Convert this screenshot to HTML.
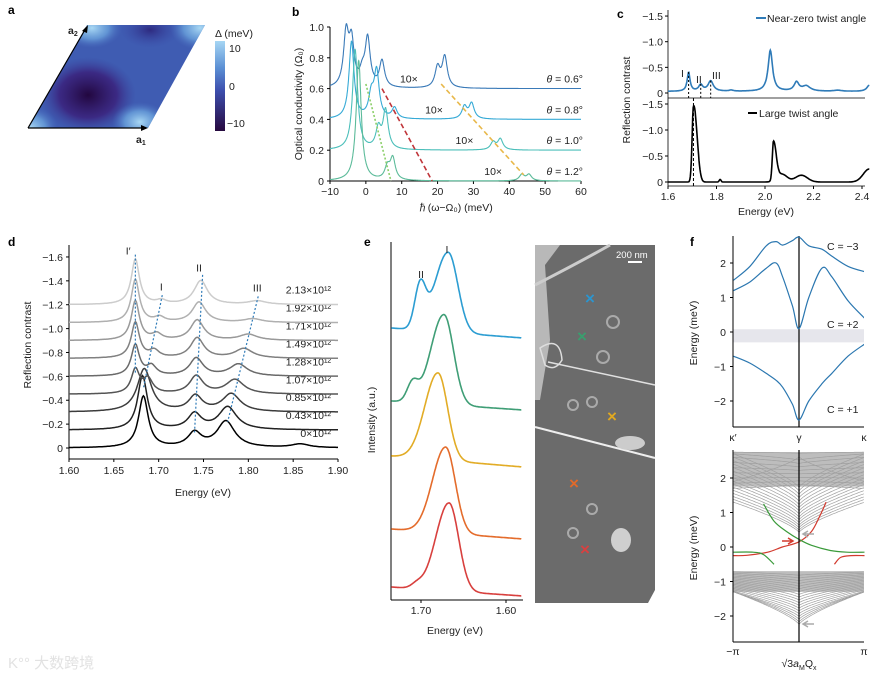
<!DOCTYPE html>
<html><head><meta charset="utf-8">
<style>
html,body{margin:0;padding:0;background:#fff;}
svg{display:block;font-family:"Liberation Sans","Noto Sans CJK SC",sans-serif;}
.t{font-size:10.5px;fill:#222;}
.L{font-size:12px;font-weight:bold;fill:#000;}
</style></head>
<body>
<svg id="fig" width="886" height="678" viewBox="0 0 886 678" xmlns="http://www.w3.org/2000/svg">
<defs>
 <clipPath id="rh"><polygon points="28,128 148,128 205,25 87,25"/></clipPath>
 <radialGradient id="dk" cx="0.5" cy="0.5" r="0.5"><stop offset="0" stop-color="#22073f"/><stop offset="0.6" stop-color="#3a1d78" stop-opacity="0.8"/><stop offset="1" stop-color="#3a3f9a" stop-opacity="0"/></radialGradient>
 <radialGradient id="lt" cx="0.5" cy="0.5" r="0.5"><stop offset="0" stop-color="#a9d8f4"/><stop offset="0.55" stop-color="#6aa2dc" stop-opacity="0.8"/><stop offset="1" stop-color="#4a70c0" stop-opacity="0"/></radialGradient>
 <radialGradient id="dm" cx="0.5" cy="0.5" r="0.5"><stop offset="0" stop-color="#2e2a80"/><stop offset="1" stop-color="#3a4aa8" stop-opacity="0"/></radialGradient>
 <linearGradient id="cb" x1="0" y1="0" x2="0" y2="1"><stop offset="0" stop-color="#a6d6f4"/><stop offset="0.3" stop-color="#5b8fd4"/><stop offset="0.55" stop-color="#3d4fae"/><stop offset="1" stop-color="#27093f"/></linearGradient>
 <clipPath id="fb"><rect x="733" y="450" width="131" height="192"/></clipPath>
 <clipPath id="ft"><rect x="733" y="236" width="131" height="191"/></clipPath>
</defs>

<g>
 <text class="L" x="8" y="14">a</text>
 <g clip-path="url(#rh)">
  <rect x="20" y="20" width="200" height="115" fill="#3f5cb2"/>
  <ellipse cx="150" cy="30" rx="30" ry="18" fill="url(#dm)"/>
  <ellipse cx="88" cy="95" rx="48" ry="38" fill="url(#dk)"/>
  <ellipse cx="30" cy="128" rx="28" ry="22" fill="url(#lt)"/>
  <ellipse cx="92" cy="28" rx="30" ry="20" fill="url(#lt)"/>
  <ellipse cx="200" cy="28" rx="30" ry="22" fill="url(#lt)"/>
  <ellipse cx="140" cy="122" rx="28" ry="20" fill="url(#lt)"/>
 </g>
 <line x1="28" y1="128" x2="146" y2="128" stroke="#000" stroke-width="1.2"/>
 <polygon points="148,128 141,125 141,131" fill="#000"/>
 <line x1="28" y1="128" x2="86" y2="28" stroke="#000" stroke-width="1.2"/>
 <polygon points="88,25 82,31 87,33" fill="#000"/>
 <text class="t" x="136" y="143" font-weight="bold">a<tspan font-size="7" dy="2">1</tspan></text>
 <text class="t" x="68" y="34" font-weight="bold">a<tspan font-size="7" dy="2">2</tspan></text>
 <rect x="215" y="41" width="10" height="90" fill="url(#cb)"/>
 <text class="t" x="215" y="37">Δ (meV)</text>
 <text class="t" x="229" y="52">10</text>
 <text class="t" x="229" y="90">0</text>
 <text class="t" x="227" y="127">−10</text>
</g>

<g id="gB"></g>
<g id="gC"></g>
<g id="gD"></g>
<g id="gE"></g>
<g id="gF"></g>

<g>
 <polygon points="535,245 655,245 655,590 648,603 535,603" fill="#6b6b6b"/>
 <polygon points="535,245 560,245 545,265 550,340 540,400 535,400" fill="#b8b8b8"/>
 <path d="M535,285 Q580,262 610,245" stroke="#ccc" stroke-width="3" fill="none"/>
 <path d="M540,348 Q560,335 562,360 Q555,372 545,365 Z" stroke="#ddd" stroke-width="1.5" fill="none"/>
 <path d="M548,362 L655,385" stroke="#e0e0e0" stroke-width="1.5"/>
 <path d="M535,427 L655,458" stroke="#eee" stroke-width="2"/>
 <ellipse cx="630" cy="443" rx="15" ry="7" fill="#ccc"/>
 <ellipse cx="621" cy="540" rx="10" ry="12" fill="#cfcfcf"/>
 <circle cx="613" cy="322" r="6" fill="none" stroke="#aaa" stroke-width="2"/>
 <circle cx="603" cy="357" r="6" fill="none" stroke="#aaa" stroke-width="2"/>
 <circle cx="573" cy="405" r="5" fill="none" stroke="#aaa" stroke-width="2"/>
 <circle cx="592" cy="402" r="5" fill="none" stroke="#aaa" stroke-width="2"/>
 <circle cx="592" cy="509" r="5" fill="none" stroke="#aaa" stroke-width="2"/>
 <circle cx="573" cy="533" r="5" fill="none" stroke="#aaa" stroke-width="2"/>
 <line x1="628" y1="262" x2="642" y2="262" stroke="#fff" stroke-width="2"/>
 <text x="616" y="258" font-size="9.5" fill="#fff">200 nm</text>
 <text x="590" y="304" font-size="17" font-weight="bold" fill="#2c95cf" text-anchor="middle">×</text>
 <text x="582" y="342" font-size="17" font-weight="bold" fill="#3a9e6e" text-anchor="middle">×</text>
 <text x="612" y="422" font-size="17" font-weight="bold" fill="#e0a820" text-anchor="middle">×</text>
 <text x="574" y="489" font-size="17" font-weight="bold" fill="#e06a2a" text-anchor="middle">×</text>
 <text x="585" y="555" font-size="17" font-weight="bold" fill="#d84040" text-anchor="middle">×</text>
</g>

<text x="8" y="668" font-size="15" fill="#e2e2e2">K°° 大数跨境</text>
</svg>

<script>
const NS='http://www.w3.org/2000/svg';
function add(parent,tag,attrs,name,text){
  const el=document.createElementNS(NS,tag);
  for(const k in attrs) el.setAttribute(k,attrs[k]);
  
  
  if(text!==undefined) el.textContent=text;
  document.getElementById(parent).appendChild(el);
  return el;
}
function sq(v){return v*v;}
function lor(x,c,a,g){return a*g*g/((x-c)*(x-c)+g*g);}
function pathFrom(xs,fy,fx,fyPix){let d='';xs.forEach((x,i)=>{d+=(i?'L':'M')+fx(x).toFixed(1)+','+fyPix(fy(x)).toFixed(1);});return d;}
function range(a,b,s){const r=[];for(let x=a;x<=b+1e-9;x+=s)r.push(x);return r;}

/* ===== Panel b data ===== */
const bAngles=['0.6°','0.8°','1.0°','1.2°'];
const bOffsets=[0.6,0.4,0.2,0];
const bColors=['#3a7ab8','#36aad6','#4cbfba','#5cbb9a'];
const bPeakPos=[[-5.5,-4,-1,0.5,4.5,20,22],[-4,1.5,3,8,27.5,29.5],[-3,3.5,5.5,35.5,37.5],[-2,6,7.5,43.5,45.5]];
const bPeakAmp=[[0.34,0.28,0.08,0.31,0.17,0.13,0.2],[0.5,0.14,0.3,0.07,0.08,0.1],[0.65,0.13,0.25,0.05,0.07],[0.78,0.08,0.14,0.04,0.04]];
const bXTicks=[-10,0,10,20,30,40,50,60];
const bYTicks=[0,0.2,0.4,0.6,0.8,1.0];
const bTenX=[[12,0.6],[19,0.4],[27.5,0.2],[35.5,0]];
const xB=v=>330+(v+10)*251/70, yB=v=>181-v*154;
(function(){
 add('gB','text',{x:292,y:16,class:'L'},'panel-b-label','b');
 add('gB','line',{x1:330,y1:27,x2:330,y2:181,stroke:'#000'},'b-y-axis');
 add('gB','line',{x1:330,y1:181,x2:581,y2:181,stroke:'#000'},'b-x-axis');
 bXTicks.forEach(t=>{add('gB','line',{x1:xB(t),y1:181,x2:xB(t),y2:184,stroke:'#000'},'b-x-tick');
   add('gB','text',{x:xB(t),y:195,class:'t','text-anchor':'middle'},'b-x-tick-label',t<0?'−'+(-t):String(t));});
 bYTicks.forEach(t=>{add('gB','line',{x1:327,y1:yB(t),x2:330,y2:yB(t),stroke:'#000'},'b-y-tick');
   add('gB','text',{x:324,y:yB(t)+4,class:'t','text-anchor':'end'},'b-y-tick-label',t===0?'0':t.toFixed(1));});
 add('gB','text',{x:455,y:211,class:'t','text-anchor':'middle','font-size':'11'},'b-x-axis-title','ℏ(ω−Ω₀) (meV)');
 add('gB','text',{x:302,y:104,class:'t','text-anchor':'middle','font-size':'11',transform:'rotate(-90 302 104)'},'b-y-axis-title','Optical conductivity (Ω₀)');
 const xs=range(-10,60,0.05);
 bOffsets.forEach((o,i)=>{
  const f=x=>o+bPeakPos[i].reduce((s,c,j)=>s+lor(x,c,bPeakAmp[i][j],0.85),0);
  add('gB','path',{d:pathFrom(xs,f,xB,yB),stroke:bColors[i],fill:'none','stroke-width':1.1},'b-spectrum-'+i);
  const lb=add('gB','text',{x:583,y:yB(o)-6,class:'t','text-anchor':'end','font-size':'12.5'},'b-angle-label','');
  lb.innerHTML='<tspan font-style="italic">θ</tspan> = '+bAngles[i];
  add('gB','text',{x:xB(bTenX[i][0]),y:yB(bTenX[i][1])-6,class:'t','text-anchor':'middle','font-size':'12'},'b-10x-label','10×');
 });
 add('gB','line',{x1:xB(0),y1:yB(0.63),x2:xB(7),y2:yB(0),stroke:'#8ccf6a','stroke-width':1.6,'stroke-dasharray':'2,2'},'b-guide-green');
 add('gB','line',{x1:xB(4.5),y1:yB(0.6),x2:xB(18.5),y2:yB(0),stroke:'#c0353a','stroke-width':1.6,'stroke-dasharray':'5,3'},'b-guide-red');
 add('gB','line',{x1:xB(21),y1:yB(0.63),x2:xB(44),y2:yB(0.04),stroke:'#e8b84a','stroke-width':1.6,'stroke-dasharray':'5,3'},'b-guide-yellow');
})();

/* ===== Panel c data ===== */
const cTopPos=[1.685,1.735,1.776,1.86,2.022,2.13,2.17,2.3,2.43];
const cTopAmp=[0.37,0.12,0.2,0.02,0.8,0.17,0.1,0.02,0.12];
const cTopW=[0.007,0.01,0.013,0.01,0.011,0.012,0.02,0.02,0.012];
const cBotPos=[1.705,1.72,1.815,2.035,2.07,2.15,2.43];
const cBotAmp=[1.4,0.2,0.05,0.75,0.15,0.13,0.25];
const cBotW=[0.008,0.014,0.005,0.007,0.03,0.035,0.035];
const cXTicks=[1.6,1.8,2.0,2.2,2.4];
const cYTicks=[0,-0.5,-1.0,-1.5];
const xC=E=>668+(E-1.6)*242.5, yCt=v=>93-v*51.3, yCb=v=>182-v*52;
(function(){
 add('gC','text',{x:617,y:18,class:'L'},'panel-c-label','c');
 add('gC','line',{x1:668,y1:10,x2:668,y2:186,stroke:'#000','stroke-width':0.8},'c-y-axis');
 add('gC','line',{x1:668,y1:186,x2:865,y2:186,stroke:'#000','stroke-width':0.8},'c-x-axis');
 add('gC','line',{x1:668,y1:98,x2:865,y2:98,stroke:'#000','stroke-width':0.8},'c-divider');
 cYTicks.forEach(t=>{[yCt,yCb].forEach(fy=>{
   add('gC','line',{x1:665,y1:fy(-t),x2:668,y2:fy(-t),stroke:'#000'},'c-y-tick');
   add('gC','text',{x:663,y:fy(-t)+4,class:'t','text-anchor':'end'},'c-y-tick-label',t===0?'0':'−'+(-t).toFixed(1));});});
 cXTicks.forEach(t=>{add('gC','line',{x1:xC(t),y1:186,x2:xC(t),y2:189,stroke:'#000'},'c-x-tick');
   add('gC','text',{x:xC(t),y:200,class:'t','text-anchor':'middle'},'c-x-tick-label',t.toFixed(1));});
 add('gC','text',{x:766,y:215,class:'t','text-anchor':'middle','font-size':'11'},'c-x-axis-title','Energy (eV)');
 add('gC','text',{x:630,y:100,class:'t','text-anchor':'middle','font-size':'11',transform:'rotate(-90 630 100)'},'c-y-axis-title','Reflection contrast');
 const xs=range(1.6,2.43,0.002);
 const ft=x=>0.03+cTopPos.reduce((s,c,j)=>s+lor(x,c,cTopAmp[j],cTopW[j]),0);
 const fb=x=>cBotPos.reduce((s,c,j)=>s+cBotAmp[j]*Math.exp(-sq((x-c)/cBotW[j])*((x>c&&(j===0||j===3))?0.2:1)),0);
 add('gC','path',{d:pathFrom(xs,ft,xC,yCt),stroke:'#2f7bb8',fill:'none','stroke-width':1.6},'c-near-zero-spectrum');
 add('gC','path',{d:pathFrom(xs,fb,xC,yCb),stroke:'#000',fill:'none','stroke-width':1.6},'c-large-angle-spectrum');
 [1.685,1.735,1.776].forEach(e=>add('gC','line',{x1:xC(e),y1:yCt(ft(e)),x2:xC(e),y2:98,stroke:'#000','stroke-dasharray':'2,2'},'c-peak-marker'));
 add('gC','line',{x1:xC(1.705),y1:98,x2:xC(1.705),y2:186,stroke:'#000','stroke-dasharray':'3,2'},'c-peak-marker');
 add('gC','text',{x:681,y:77,class:'t','font-size':'11'},'c-label-I','I');
 add('gC','text',{x:696,y:83,class:'t','font-size':'11'},'c-label-II','II');
 add('gC','text',{x:712,y:79,class:'t','font-size':'11'},'c-label-III','III');
 add('gC','line',{x1:756,y1:18,x2:766,y2:18,stroke:'#2f7bb8','stroke-width':2},'c-legend-swatch-blue');
 add('gC','text',{x:767,y:22,class:'t'},'c-legend-near-zero','Near-zero twist angle');
 add('gC','line',{x1:748,y1:113,x2:757,y2:113,stroke:'#000','stroke-width':2},'c-legend-swatch-black');
 add('gC','text',{x:759,y:117,class:'t'},'c-legend-large','Large twist angle');
})();

/* ===== Panel d data ===== */
const dLabels=['0×10¹²','0.43×10¹²','0.85×10¹²','1.07×10¹²','1.28×10¹²','1.49×10¹²','1.71×10¹²','1.92×10¹²','2.13×10¹²'];
const dOffsets=[0,0.15,0.3,0.45,0.6,0.75,0.9,1.05,1.2];
const dColors=['#000','#222','#3c3c3c','#555','#6a6a6a','#808080','#999','#b0b0b0','#cccccc'];
const dIpPos=[1.674,1.674,1.674,1.674,1.674,1.674,1.674,1.674,1.674];
const dIpAmp=[0,0,0,0.2,0.26,0.3,0.33,0.36,0.38];
const dIPos=[1.683,1.682,1.684,1.688,1.692,1.695,1.698,1.701,1.703];
const dIAmp=[0.43,0.45,0.36,0.12,0.08,0.06,0.05,0.04,0.03];
const dIIPos=[1.740,1.740,1.741,1.742,1.742,1.743,1.743,1.745,1.747];
const dIIAmp=[0.12,0.13,0.13,0.15,0.15,0.17,0.17,0.17,0.2];
const dIIIPos=[1.775,1.777,1.781,1.785,1.789,1.795,1.800,1.805,1.810];
const dIIIAmp=[0.22,0.19,0.15,0.12,0.1,0.08,0.05,0.03,0.03];
const dXTicks=[1.60,1.65,1.70,1.75,1.80,1.85,1.90];
const dYTicks=[0,-0.2,-0.4,-0.6,-0.8,-1.0,-1.2,-1.4,-1.6];
const xD=E=>69+(E-1.6)*896.7, yD=v=>448-v*119.4;
(function(){
 add('gD','text',{x:8,y:246,class:'L'},'panel-d-label','d');
 add('gD','line',{x1:69,y1:245,x2:69,y2:459,stroke:'#000'},'d-y-axis');
 add('gD','line',{x1:69,y1:459,x2:338,y2:459,stroke:'#000'},'d-x-axis');
 dXTicks.forEach(t=>{add('gD','line',{x1:xD(t),y1:459,x2:xD(t),y2:462,stroke:'#000'},'d-x-tick');
   add('gD','text',{x:xD(t),y:474,class:'t','text-anchor':'middle'},'d-x-tick-label',t.toFixed(2));});
 dYTicks.forEach(t=>{add('gD','line',{x1:66,y1:yD(-t),x2:69,y2:yD(-t),stroke:'#000'},'d-y-tick');
   add('gD','text',{x:63,y:yD(-t)+4,class:'t','text-anchor':'end'},'d-y-tick-label',t===0?'0':'−'+(-t).toFixed(1));});
 add('gD','text',{x:203,y:496,class:'t','text-anchor':'middle','font-size':'11'},'d-x-axis-title','Energy (eV)');
 add('gD','text',{x:31,y:345,class:'t','text-anchor':'middle','font-size':'11',transform:'rotate(-90 31 345)'},'d-y-axis-title','Reflection contrast');
 const xs=range(1.6,1.9,0.001);
 dOffsets.forEach((o,i)=>{
  const f=x=>o+lor(x,dIpPos[i],dIpAmp[i],0.0055)+lor(x,dIPos[i],dIAmp[i],0.0065+(i===2?0.003:0))+lor(x,dIIPos[i],dIIAmp[i],0.009)+lor(x,dIIIPos[i],dIIIAmp[i],0.012)+(i===0?lor(x,1.858,0.03,0.012):0);
  add('gD','path',{d:pathFrom(xs,f,xD,yD),stroke:dColors[i],fill:'none','stroke-width':1.5},'d-spectrum-'+i);
  add('gD','text',{x:331,y:yD(o)-11,class:'t','text-anchor':'end','font-size':'10'},'d-density-label',dLabels[i]);
 });
 const bl='#2f7bb8';
 add('gD','line',{x1:xD(1.674),y1:yD(1.62),x2:xD(1.674),y2:yD(0.62),stroke:bl,'stroke-dasharray':'2,2','stroke-width':1.2},'d-guide-Iprime');
 add('gD','line',{x1:xD(1.704),y1:yD(1.28),x2:xD(1.683),y2:yD(0.5),stroke:bl,'stroke-dasharray':'2,2','stroke-width':1.2},'d-guide-I');
 add('gD','line',{x1:xD(1.749),y1:yD(1.45),x2:xD(1.740),y2:yD(0.13),stroke:bl,'stroke-dasharray':'2,2','stroke-width':1.2},'d-guide-II');
 add('gD','line',{x1:xD(1.811),y1:yD(1.27),x2:xD(1.777),y2:yD(0.22),stroke:bl,'stroke-dasharray':'2,2','stroke-width':1.2},'d-guide-III');
 add('gD','text',{x:xD(1.666),y:yD(1.62),class:'t','font-size':'11.5','text-anchor':'middle'},'d-label-Iprime','I′');
 add('gD','text',{x:xD(1.703),y:yD(1.32),class:'t','font-size':'11.5','text-anchor':'middle'},'d-label-I','I');
 add('gD','text',{x:xD(1.745),y:yD(1.48),class:'t','font-size':'11.5','text-anchor':'middle'},'d-label-II','II');
 add('gD','text',{x:xD(1.81),y:yD(1.31),class:'t','font-size':'11.5','text-anchor':'middle'},'d-label-III','III');
})();

/* ===== Panel e data ===== */
const eColors=['#2c9dd2','#3f9e76','#e2ac26','#e46c2c','#d8403e'];
const eBase=[262,190,133,61,4];
const eSlope=[10,9,11,10,9];
const eIPos=[1.668,1.673,1.680,1.671,1.667];
const eIAmp=[80,90,87,86,88];
const eIIPos=[1.701,1.710,1.70,1.70,1.705];
const eIIAmp=[42,18,0,0,4];
const eXTicks=[1.70,1.60];
const xE=E=>421+(1.70-E)*850, yE=v=>600-v;
(function(){
 add('gE','text',{x:364,y:246,class:'L'},'panel-e-label','e');
 add('gE','line',{x1:391,y1:242,x2:391,y2:600,stroke:'#000'},'e-y-axis');
 add('gE','line',{x1:391,y1:600,x2:523,y2:600,stroke:'#000'},'e-x-axis');
 eXTicks.forEach(t=>{add('gE','line',{x1:xE(t),y1:600,x2:xE(t),y2:603,stroke:'#000'},'e-x-tick');
   add('gE','text',{x:xE(t),y:614,class:'t','text-anchor':'middle'},'e-x-tick-label',t.toFixed(2));});
 add('gE','text',{x:455,y:634,class:'t','text-anchor':'middle','font-size':'11'},'e-x-axis-title','Energy (eV)');
 add('gE','text',{x:375,y:420,class:'t','text-anchor':'middle','font-size':'11',transform:'rotate(-90 375 420)'},'e-y-axis-title','Intensity (a.u.)');
 const xs=range(1.582,1.735,0.0005);
 eBase.forEach((b,i)=>{
  const f=x=>b+eSlope[i]*(x-1.58)/0.155+eIAmp[i]*Math.exp(-sq((x-eIPos[i])/(x>eIPos[i]?0.022:0.016)))+eIIAmp[i]*Math.exp(-sq((x-eIIPos[i])/0.009));
  add('gE','path',{d:pathFrom(xs,f,xE,yE),stroke:eColors[i],fill:'none','stroke-width':1.6},'e-spectrum-'+i);
 });
 add('gE','text',{x:447,y:253,class:'t','font-size':'11.5','text-anchor':'middle'},'e-label-I','I');
 add('gE','text',{x:421,y:278,class:'t','font-size':'11.5','text-anchor':'middle'},'e-label-II','II');
})();

/* ===== Panel f data ===== */
const fK=[-1,-0.75,-0.5,-0.35,-0.25,-0.1,0,0.15,0.35,0.5,0.75,1];
const fBand3=[1.5,1.9,2.5,2.62,2.52,2.65,2.75,2.5,2.4,2.2,1.9,1.75];
const fBand2=[1.2,1.45,1.85,2.0,1.6,0.75,0.1,1.0,1.85,1.6,0.9,0.4];
const fBand1=[-0.7,-0.9,-1.2,-1.4,-1.6,-2.1,-2.55,-2.0,-1.5,-1.2,-0.7,-0.35];
const fYTicks=[-2,-1,0,1,2];
const upMin=[0.42,0.48,0.55,0.62,0.7,0.78,0.86,0.95,1.04,1.13,1.22,1.32,1.42,1.52,1.62,1.72,1.82,1.92,2.02,2.12,2.22,2.32,2.42,2.52,2.62,2.72];
const upEdge=[1.3,1.38,1.46,1.55,1.64,1.73,1.82,1.9,2.0,2.1,2.2,2.3,2.4,2.5,2.6,2.7,1.7,1.85,2.0,2.15,2.3,2.45,2.6,2.7,1.9,2.75];
const loMax=[-0.82,-0.9,-0.98,-1.06,-1.14,-1.22,-1.3,-1.38,-1.46,-1.54,-1.62,-1.7,-1.78,-1.86,-1.94,-2.02,-2.1,-2.18,-2.25];
const loEdge=[-0.72,-0.76,-0.8,-0.84,-0.88,-0.92,-0.96,-1.0,-1.04,-1.08,-1.12,-1.16,-1.2,-1.24,-1.28,-1.3,-1.3,-1.3,-1.3];
const redQ=[-3.14,-2.5,-1.5,-0.8,0,0.6,1.0,1.3];
const redE=[-0.25,-0.24,-0.15,0.0,0.15,0.45,0.9,1.3];
const redQ2=[1.7,2.0,2.5,3.14];
const redE2=[-0.5,-0.3,-0.25,-0.25];
const grQ=[-1.7,-1.2,-0.6,0,0.6,1.5,2.3,3.14];
const grE=[1.25,0.75,0.45,0.22,0.05,-0.1,-0.15,-0.15];
const grQ2=[-3.14,-2.2,-1.7,-1.2];
const grE2=[-0.15,-0.15,-0.22,-0.5];
const xFt=k=>799+k*65.5, yFt=v=>332-v*34.5;
const xFb=q=>799+q/Math.PI*65.5, yFb=v=>547-v*34.5;
function smooth(xs,ys,fx,fy){let d='M'+fx(xs[0])+','+fy(ys[0]);
 for(let i=0;i<xs.length-1;i++){const x0=xs[Math.max(i-1,0)],y0=ys[Math.max(i-1,0)],x1=xs[i],y1=ys[i],x2=xs[i+1],y2=ys[i+1],x3=xs[Math.min(i+2,xs.length-1)],y3=ys[Math.min(i+2,ys.length-1)];
  const c1x=fx(x1)+(fx(x2)-fx(x0))/6,c1y=fy(y1)+(fy(y2)-fy(y0))/6,c2x=fx(x2)-(fx(x3)-fx(x1))/6,c2y=fy(y2)-(fy(y3)-fy(y1))/6;
  d+=' C'+c1x.toFixed(1)+','+c1y.toFixed(1)+' '+c2x.toFixed(1)+','+c2y.toFixed(1)+' '+fx(x2).toFixed(1)+','+fy(y2).toFixed(1);}
 return d;}
(function(){
 add('gF','text',{x:690,y:246,class:'L'},'panel-f-label','f');
 add('gF','rect',{x:733,y:yFt(0.08),width:131,height:yFt(-0.3)-yFt(0.08),fill:'#e6e6ec'},'f-gap-band');
 add('gF','line',{x1:733,y1:236,x2:733,y2:427,stroke:'#000'},'f-top-y-axis');
 add('gF','line',{x1:733,y1:427,x2:864,y2:427,stroke:'#000'},'f-top-x-axis');
 add('gF','line',{x1:799,y1:236,x2:799,y2:427,stroke:'#000','stroke-width':1.2},'f-top-gamma-line');
 fYTicks.forEach(t=>{
  add('gF','line',{x1:730,y1:yFt(t),x2:733,y2:yFt(t),stroke:'#000'},'f-top-y-tick');
  add('gF','text',{x:726,y:yFt(t)+4,class:'t','text-anchor':'end'},'f-top-y-tick-label',t<0?'−'+(-t):String(t));
  add('gF','line',{x1:730,y1:yFb(t),x2:733,y2:yFb(t),stroke:'#000'},'f-bot-y-tick');
  add('gF','text',{x:726,y:yFb(t)+4,class:'t','text-anchor':'end'},'f-bot-y-tick-label',t<0?'−'+(-t):String(t));
 });
 [fBand3,fBand2,fBand1].forEach((b,i)=>add('gF','path',{d:smooth(fK,b,xFt,yFt),stroke:'#2b77b0',fill:'none','stroke-width':1.2,'clip-path':'url(#ft)'},'f-band-'+i));
 add('gF','text',{x:827,y:250,class:'t','font-size':'11.5'},'f-chern-neg3','C = −3');
 add('gF','text',{x:827,y:328,class:'t','font-size':'11.5'},'f-chern-pos2','C = +2');
 add('gF','text',{x:827,y:413,class:'t','font-size':'11.5'},'f-chern-pos1','C = +1');
 add('gF','text',{x:733,y:441,class:'t','text-anchor':'middle','font-size':'11'},'f-kprime-label','κ′');
 add('gF','text',{x:799,y:441,class:'t','text-anchor':'middle','font-size':'11'},'f-gamma-label','γ');
 add('gF','text',{x:864,y:441,class:'t','text-anchor':'middle','font-size':'11'},'f-k-label','κ');
 add('gF','text',{x:697,y:333,class:'t','text-anchor':'middle','font-size':'11',transform:'rotate(-90 697 333)'},'f-top-y-axis-title','Energy (meV)');
 const qs=range(-Math.PI,Math.PI,0.05);
 add('gF','rect',{x:733,y:yFb(2.75),width:131,height:yFb(1.75)-yFb(2.75),fill:'#bdbdbd','clip-path':'url(#fb)'},'f-dense-upper');
 add('gF','rect',{x:733,y:yFb(-0.7),width:131,height:yFb(-1.3)-yFb(-0.7),fill:'#bdbdbd'},'f-dense-lower');
 upMin.forEach((m,i)=>{const f=q=>m+(upEdge[i]-m)*Math.pow(Math.abs(q)/Math.PI,0.75);
  add('gF','path',{d:pathFrom(qs,f,xFb,yFb),stroke:'#a0a0a0',fill:'none','stroke-width':0.7,'clip-path':'url(#fb)'},'f-bulk-upper-band');});
 loMax.forEach((m,i)=>{const f=q=>m+(loEdge[i]-m)*Math.pow(Math.abs(q)/Math.PI,0.75);
  add('gF','path',{d:pathFrom(qs,f,xFb,yFb),stroke:'#a0a0a0',fill:'none','stroke-width':0.7,'clip-path':'url(#fb)'},'f-bulk-lower-band');});
 add('gF','path',{d:smooth(redQ,redE,xFb,yFb),stroke:'#d23a2e',fill:'none','stroke-width':1.2},'f-edge-state-red');
 add('gF','path',{d:smooth(redQ2,redE2,xFb,yFb),stroke:'#d23a2e',fill:'none','stroke-width':1.2},'f-edge-state-red-2');
 add('gF','path',{d:smooth(grQ,grE,xFb,yFb),stroke:'#3a9a3a',fill:'none','stroke-width':1.2},'f-edge-state-green');
 add('gF','path',{d:smooth(grQ2,grE2,xFb,yFb),stroke:'#3a9a3a',fill:'none','stroke-width':1.2},'f-edge-state-green-2');
 add('gF','line',{x1:733,y1:450,x2:733,y2:642,stroke:'#000'},'f-bot-y-axis');
 add('gF','line',{x1:733,y1:642,x2:864,y2:642,stroke:'#000'},'f-bot-x-axis');
 add('gF','line',{x1:799,y1:450,x2:799,y2:642,stroke:'#000','stroke-width':1.2},'f-bot-center-line');
 add('gF','path',{d:'M782,541 L792,541 M788,538 L793,541 L788,544',stroke:'#d23a2e',fill:'none','stroke-width':1.5},'f-red-arrow');
 add('gF','path',{d:'M814,534 L804,534 M808,531 L803,534 L808,537',stroke:'#aaa',fill:'none','stroke-width':1.5},'f-grey-arrow');
 add('gF','path',{d:'M814,624 L804,624 M808,621 L803,624 L808,627',stroke:'#aaa',fill:'none','stroke-width':1.5},'f-grey-arrow-2');
 add('gF','text',{x:733,y:655,class:'t','text-anchor':'middle'},'f-neg-pi-label','−π');
 add('gF','text',{x:864,y:655,class:'t','text-anchor':'middle'},'f-pi-label','π');
 const xt=add('gF','text',{x:799,y:667,class:'t','text-anchor':'middle','font-size':'11'},'f-bot-x-axis-title','');
 xt.innerHTML='√3<tspan font-style="italic">a</tspan><tspan font-size="7" dy="3">M</tspan><tspan dy="-3">Q</tspan><tspan font-size="7" dy="3">x</tspan>';
 add('gF','text',{x:697,y:548,class:'t','text-anchor':'middle','font-size':'11',transform:'rotate(-90 697 548)'},'f-bot-y-axis-title','Energy (meV)');
})();
</script>
</body></html>
